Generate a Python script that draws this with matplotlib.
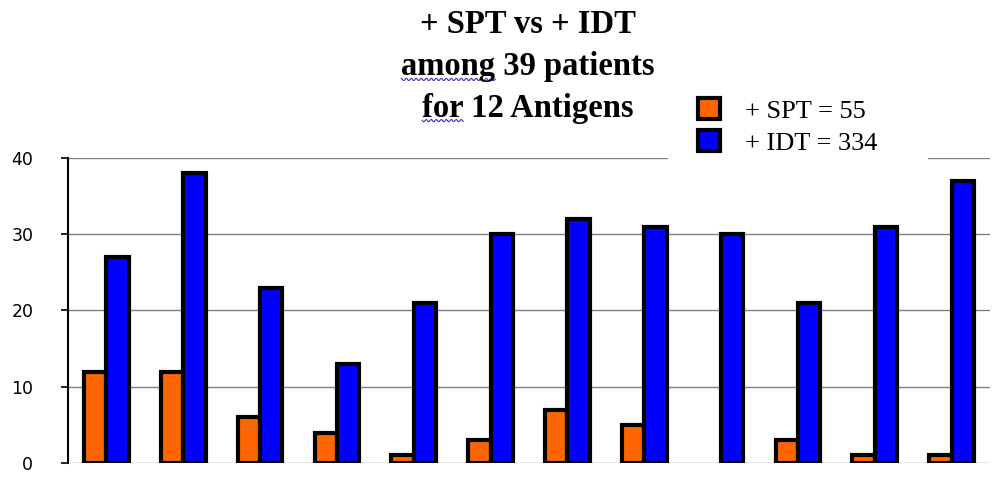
import numpy as np
import matplotlib.pyplot as plt
from matplotlib.lines import Line2D
from matplotlib.patches import Rectangle

# values (12 antigens)
antigens = np.arange(12)
spt_pos = [12, 12, 6, 4, 1, 3, 7, 5, 0, 3, 1, 1]
idt_pos = [27, 38, 23, 13, 21, 30, 32, 31, 30, 21, 31, 37]
yticks = [0, 10, 20, 30, 40]

orange = '#FF6600'
blue = '#0000FF'

fig = plt.figure(figsize=(10, 4.96), dpi=100)
ax = fig.add_axes([0.068, 0.0665, 0.922, 0.615])

w = 0.29
x = antigens + 0.5
lw_spt = [0 if v == 0 else 3 for v in spt_pos]
b1 = ax.bar(x - w / 2, spt_pos, w, color=orange, edgecolor='black',
            linewidth=lw_spt, zorder=3, label=f'+ SPT = {sum(spt_pos)}')
b2 = ax.bar(x + w / 2, idt_pos, w, color=blue, edgecolor='black',
            linewidth=3, zorder=3, label=f'+ IDT = {sum(idt_pos)}')

ax.set_xlim(0, 12)
ax.set_ylim(0, 40)
ax.set_yticks(yticks)
ax.set_xticks([])
ax.yaxis.grid(True, color='#808080', linewidth=1)
ax.set_axisbelow(True)
for s in ['top', 'right', 'bottom']:
    ax.spines[s].set_visible(False)
ax.spines['left'].set_linewidth(1.5)
ax.spines['left'].set_zorder(4)
ax.tick_params(axis='y', length=5, width=1.2, labelsize=12.5, pad=20)
ax.tick_params(axis='x', length=0)

# title lines
tfont = dict(family='Liberation Serif', weight='bold', size=23.5, ha='center', va='center')
lines = ['+ SPT vs + IDT', 'among 39 patients', 'for 12 Antigens']
ys = [0.950, 0.865, 0.782]
tx = []
for s, yy in zip(lines, ys):
    tx.append(fig.text(0.528, yy, s, **tfont))

# blue spell-check squiggles under "among" and "for"
fig.canvas.draw()
r = fig.canvas.get_renderer()
for t, word in [(tx[1], 'among'), (tx[2], 'for')]:
    bb = t.get_window_extent(r)
    tmp = fig.text(0, 0, word, **tfont)
    ww = tmp.get_window_extent(r).width
    tmp.remove()
    xs = np.arange(bb.x0, bb.x0 + ww, 1.0)
    yb = bb.y0 + 3 + 1.2 * np.sin(xs * np.pi / 2.5)
    fig.add_artist(Line2D(xs / 1000, yb / 496, color='#3333cc', lw=0.8))

# white block behind the legend hides part of the top gridline
fig.add_artist(Rectangle((0.668, 0.672), 0.26, 0.16, transform=fig.transFigure,
                         facecolor='white', edgecolor='none', zorder=1))

leg = fig.legend(handles=[b1, b2], loc='center left', bbox_to_anchor=(0.68, 0.745),
                 frameon=False,
                 prop={'family': 'Liberation Serif', 'size': 19},
                 handlelength=0.8, handleheight=0.85, handletextpad=0.95,
                 labelspacing=0.3, borderpad=0.2)
leg.set_zorder(5)

fig.savefig('out.png', dpi=100)
